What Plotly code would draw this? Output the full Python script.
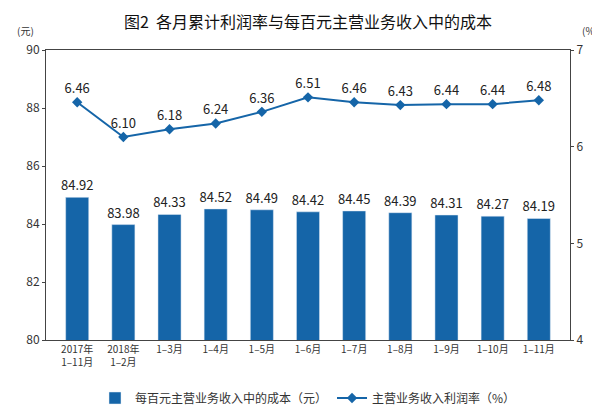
import plotly.graph_objects as go

months = ["2017年<br>1–11月", "2018年<br>1–2月", "1–3月", "1–4月", "1–5月", "1–6月",
          "1–7月", "1–8月", "1–9月", "1–10月", "1–11月"]
cost = [84.92, 83.98, 84.33, 84.52, 84.49, 84.42, 84.45, 84.39, 84.31, 84.27, 84.19]
profit = [6.46, 6.10, 6.18, 6.24, 6.36, 6.51, 6.46, 6.43, 6.44, 6.44, 6.48]

blue = "#1565a8"
fig = go.Figure()
fig.add_trace(go.Bar(x=months, y=cost, name="每百元主营业务收入中的成本（元）",
                     marker_color=blue, width=0.5,
                     text=[f"{v:.2f}" for v in cost], textposition="outside",
                     constraintext="none", textangle=0,
                     textfont=dict(size=13, color="#222"), cliponaxis=False))
fig.add_trace(go.Scatter(x=months, y=profit, name="主营业务收入利润率（%）", yaxis="y2",
                         mode="lines+markers+text", line=dict(color=blue, width=2),
                         marker=dict(symbol="diamond", size=8, color=blue),
                         text=[f"{v:.2f}" for v in profit], textposition="top center",
                         textfont=dict(size=13, color="#222"), cliponaxis=False))
fig.update_layout(
    width=600, height=417, margin=dict(l=38, r=38, t=42, b=62),
    plot_bgcolor="white", paper_bgcolor="white",
    font=dict(family="Noto Sans CJK SC", size=11, color="#333"),
    title=dict(text="图2  各月累计利润率与每百元主营业务收入中的成本", x=0.5, y=0.98,
               xanchor="center", font=dict(size=16, color="#111")),
    xaxis=dict(showline=True, mirror=True, linecolor="#444", ticks="", tickfont=dict(size=10)),
    yaxis=dict(range=[80, 90], dtick=2, showgrid=False, showline=True, linecolor="#444",
               ticks="outside", ticklen=3, tickfont=dict(size=12)),
    yaxis2=dict(range=[4, 7], dtick=1, overlaying="y", side="right", showgrid=False,
                showline=True, linecolor="#444", ticks="outside", ticklen=3, tickfont=dict(size=12)),
    legend=dict(orientation="h", x=0.5, xanchor="center", y=-0.15, yanchor="top",
                font=dict(size=12)),
    annotations=[dict(text="(元)", x=-0.02, y=1.035, xref="paper", yref="paper", xanchor="right",
                      yanchor="bottom", showarrow=False, font=dict(size=10)),
                 dict(text="(%)", x=1.02, y=1.035, xref="paper", yref="paper", xanchor="left",
                      yanchor="bottom", showarrow=False, font=dict(size=10))],
)
fig.write_html("out.html")
